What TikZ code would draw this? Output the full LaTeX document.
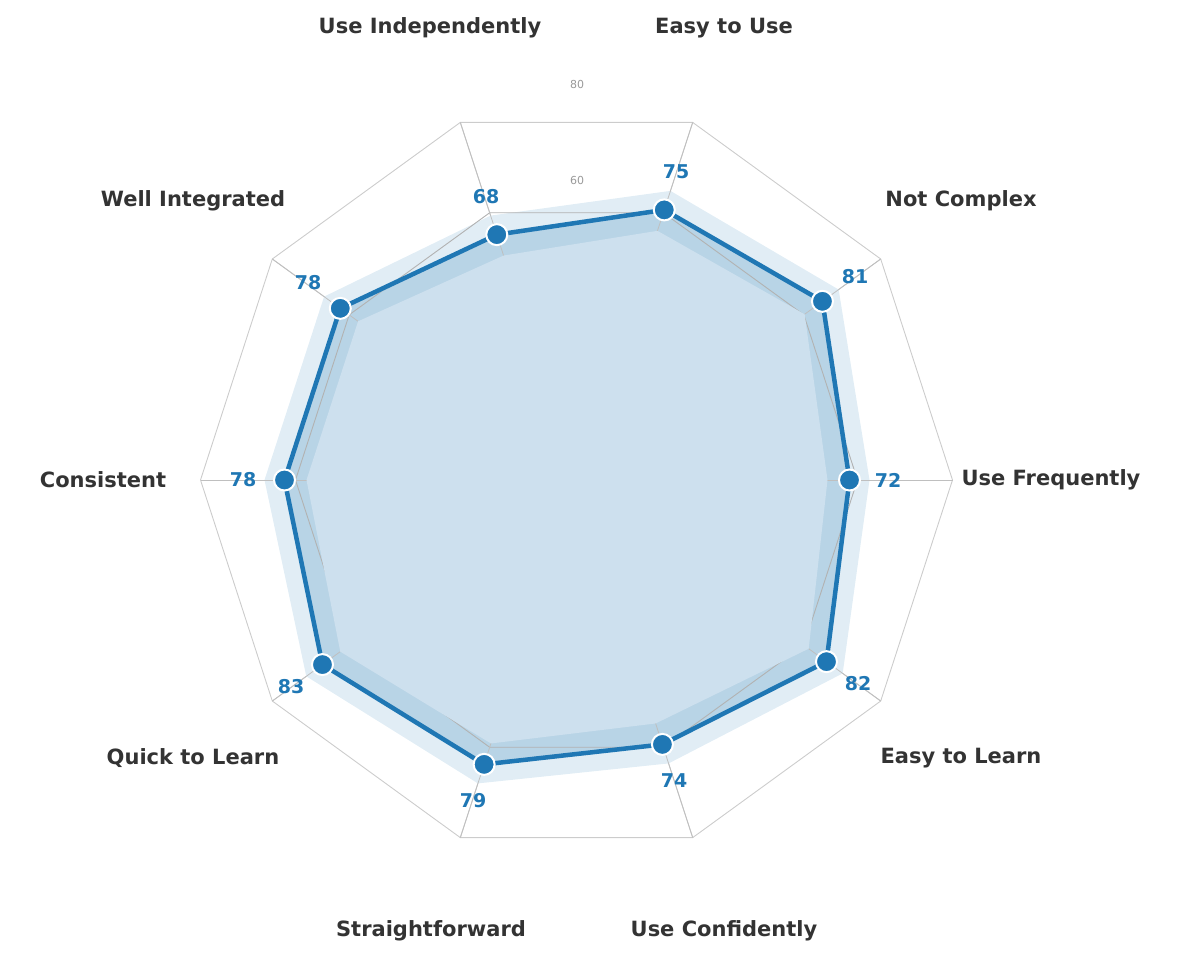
\documentclass[tikz,border=0pt]{standalone}
\usepackage{fontspec}
\setmainfont{DejaVu Sans}
\usetikzlibrary{calc}
\definecolor{line}{HTML}{1F77B4}
\definecolor{bandout}{HTML}{E1EDF5}
\definecolor{bandmid}{HTML}{B8D4E6}
\definecolor{bandin}{HTML}{CDE0EE}
\definecolor{grid}{HTML}{CCCCCC}
\definecolor{txt}{HTML}{333333}
\begin{document}
\begin{tikzpicture}[x=1pt,y=-1pt,
  cat/.style={font=\bfseries\fontsize{21}{24}\selectfont,text=txt},
  val/.style={font=\bfseries\fontsize{19}{22}\selectfont,text=line},
  tick/.style={font=\fontsize{11}{13}\selectfont,text=black!40},
  dot/.style={circle,fill=line,draw=white,line width=2pt,minimum size=21pt,inner sep=0pt}]
\useasboundingbox (0,0) rectangle (1191,961);
\coordinate (O) at (576.5,480);
\foreach \i/\r in {0/273,1/304,2/284,3/258,4/292,5/292,6/314,7/299,8/278,9/309}{
  \pgfmathsetmacro{\ang}{-36*\i}
  \pgfmathsetmacro{\ro}{\r+20}
  \pgfmathsetmacro{\ri}{\r-22}
  \coordinate (g\i) at ($(O)+(\ang:376)$);
  \coordinate (h\i) at ($(O)+(\ang:281)$);
  \coordinate (p\i) at ($(O)+(\ang:\r)$);
  \coordinate (q\i) at ($(O)+(\ang:\ro)$);
  \coordinate (s\i) at ($(O)+(\ang:\ri)$);
}
\draw[grid,line width=0.9pt] (g0) \foreach \i in {1,...,9}{ -- (g\i)} -- cycle;
\foreach \i in {0,...,9}{\draw[grid,line width=0.9pt] (O) -- (g\i);}
\fill[bandout] (q0) \foreach \i in {1,...,9}{ -- (q\i)} -- cycle;
\fill[bandmid] (p0) \foreach \i in {1,...,9}{ -- (p\i)} -- cycle;
\draw[black!30,line width=0.9pt] (h0) \foreach \i in {1,...,9}{ -- (h\i)} -- cycle;
\foreach \i in {0,...,9}{\draw[black!25,line width=0.8pt] (O) -- (g\i);}
\fill[bandin] (s0) \foreach \i in {1,...,9}{ -- (s\i)} -- cycle;
\draw[line,line width=4.5pt,line join=round] (p0) \foreach \i in {1,...,9}{ -- (p\i)} -- cycle;
\foreach \i in {0,...,9}{\node[dot] (d\i) at (p\i) {};}
\node[tick] (t80) at (577,84) {80};
\node[tick] (t60) at (577,180) {60};
\node[val] (l0) at (888,480) {72};
\node[val] (l1) at (676,172) {75};
\node[val] (l2) at (486,197) {68};
\node[val] (l3) at (308,283) {78};
\node[val] (l4) at (243,480) {78};
\node[val] (l5) at (291,687) {83};
\node[val] (l6) at (473,801) {79};
\node[val] (l7) at (674,781) {74};
\node[val] (l8) at (858,684) {82};
\node[val] (l9) at (855,277) {81};
\node[cat] (c0) at (1051,480) {Use Frequently};
\node[cat] (c1) at (724,28) {Easy to Use};
\node[cat] (c2) at (430,28) {Use Independently};
\node[cat] (c3) at (193,201) {Well Integrated};
\node[cat] (c4) at (103,480) {Consistent};
\node[cat] (c5) at (193,758) {Quick to Learn};
\node[cat] (c6) at (431,931) {Straightforward};
\node[cat] (c7) at (724,931) {Use Confidently};
\node[cat] (c8) at (961,758) {Easy to Learn};
\node[cat] (c9) at (961,201) {Not Complex};
\end{tikzpicture}
\end{document}
